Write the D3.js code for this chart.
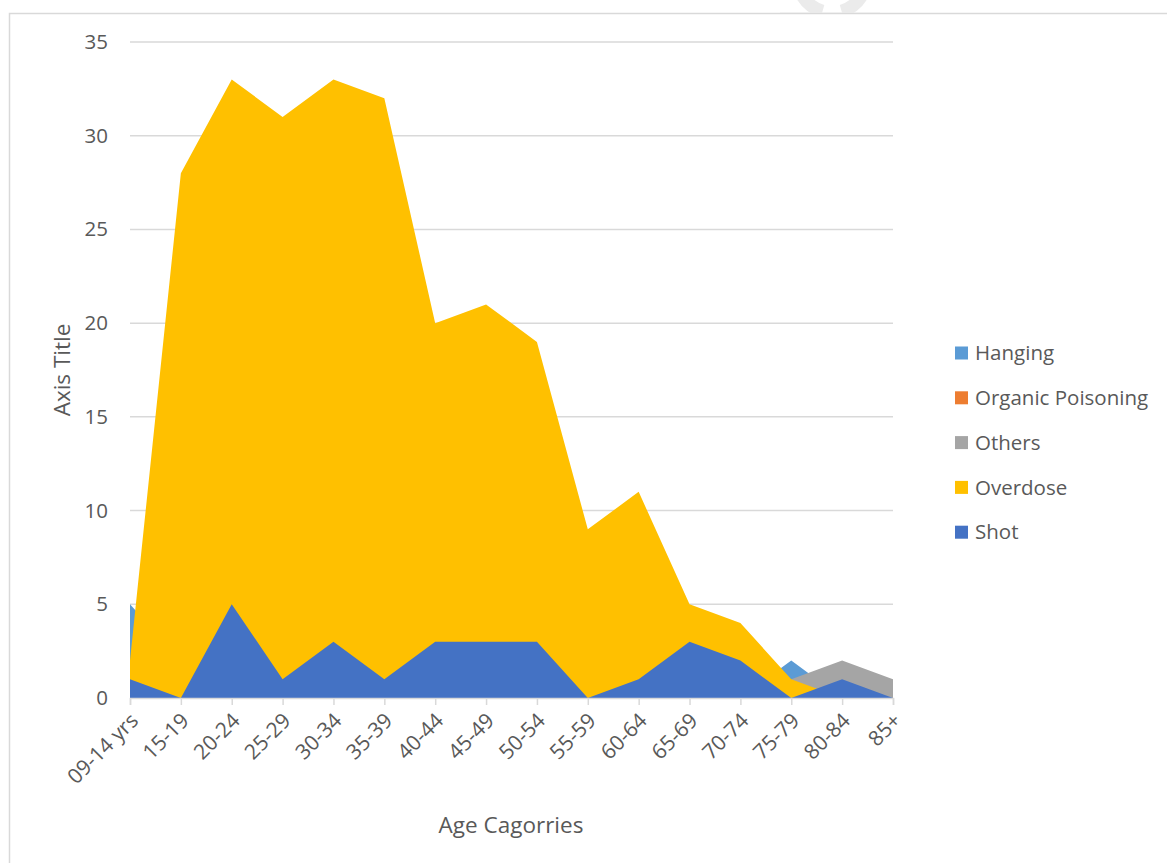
<!DOCTYPE html>
<html>
<head>
<meta charset="utf-8">
<script src="https://cdn.jsdelivr.net/npm/d3@7"></script>
<style>
  html, body { margin: 0; padding: 0; background: #ffffff; }
  svg { display: block; font-family: "Open Sans", "Noto Sans", sans-serif; }
</style>
</head>
<body>
<svg id="chart" width="1167" height="863"></svg>
<script>
// Age groups on the category axis
const categories = ["09-14 yrs", "15-19", "20-24", "25-29", "30-34", "35-39", "40-44", "45-49",
                    "50-54", "55-59", "60-64", "65-69", "70-74", "75-79", "80-84", "85+"];

// Counts per cause of death, one array per series
const hanging          = [5, 2, 4, 3, 4, 2, 3, 2, 2, 2, 1, 1, 0, 2, 0, 0];
const organicPoisoning = [0, 1, 1, 0, 1, 1, 0, 1, 0, 0, 0, 0, 0, 0, 0, 0];
const others           = [0, 1, 0, 1, 0, 1, 1, 0, 1, 0, 0, 1, 0, 1, 2, 1];
const overdose         = [2, 28, 33, 31, 33, 32, 20, 21, 19, 9, 11, 5, 4, 1, 0, 0];
const shot             = [1, 0, 5, 1, 3, 1, 3, 3, 3, 0, 1, 3, 2, 0, 1, 0];

const seriesNames  = ["Hanging", "Organic Poisoning", "Others", "Overdose", "Shot"];
const seriesValues = [hanging, organicPoisoning, others, overdose, shot];
const seriesColors = ["#5B9BD5", "#ED7D31", "#A5A5A5", "#FFC000", "#4472C4"];

const yTicks = [0, 5, 10, 15, 20, 25, 30, 35];

const svg = d3.select("#chart");
const textColor = "#595959";
const gridColor = "#d9d9d9";
const labelSize = "20.5px";
const titleSize = "22.5px";

// Outer chart frame
svg.append("rect")
  .attr("x", 9.5).attr("y", 13.5)
  .attr("width", 1200).attr("height", 900)
  .attr("fill", "none")
  .attr("stroke", gridColor)
  .attr("stroke-width", 1.5);

// Faint ring ornament at the top edge
const ornament = svg.append("g").attr("transform", "translate(832,-22)");
const ringArc = d3.arc().innerRadius(28).outerRadius(41);
[[2.0, 2.86], [3.42, 4.3]].forEach(([a0, a1]) => {
  ornament.append("path")
    .attr("d", ringArc({ startAngle: a0, endAngle: a1 }))
    .attr("fill", "#ebebeb");
});
svg.append("rect").attr("x", 780).attr("y", 12.8).attr("width", 100).attr("height", 40).attr("fill", "#fff");
svg.append("line").attr("x1", 780).attr("x2", 880).attr("y1", 13.5).attr("y2", 13.5)
  .attr("stroke", gridColor).attr("stroke-width", 1.5);

// Scales
const x = d3.scalePoint().domain(categories).range([130, 893]);
const y = d3.scaleLinear().domain([0, 35]).range([698, 42]);

// Horizontal gridlines
svg.append("g")
  .selectAll("line")
  .data(yTicks.filter(t => t > 0))
  .join("line")
  .attr("x1", 130).attr("x2", 893)
  .attr("y1", d => y(d)).attr("y2", d => y(d))
  .attr("stroke", gridColor)
  .attr("stroke-width", 1.5);

// Overlapping (non-stacked) areas, first series at the back
const area = d3.area()
  .x((d, i) => x(categories[i]))
  .y0(y(0))
  .y1(d => y(d));

svg.append("g")
  .selectAll("path")
  .data(seriesValues)
  .join("path")
  .attr("d", d => area(d))
  .attr("fill", (d, i) => seriesColors[i]);

// Category axis
const xAxis = svg.append("g").attr("transform", `translate(0,${y(0)})`)
  .call(d3.axisBottom(x).tickSize(7).tickPadding(6));
xAxis.select(".domain").attr("stroke", gridColor).attr("stroke-width", 1.5);
xAxis.selectAll(".tick line").attr("stroke", gridColor).attr("stroke-width", 1.5);
xAxis.selectAll(".tick text")
  .attr("fill", textColor)
  .style("font-size", "21px")
  .style("font-family", "'Open Sans', sans-serif")
  .attr("text-anchor", "end")
  .attr("dy", null)
  .attr("transform", "translate(5,20) rotate(-45)")
  .attr("x", 0).attr("y", 0)
  .attr("dominant-baseline", "middle");

// Value axis labels
const yAxis = svg.append("g").attr("transform", "translate(130,0)")
  .call(d3.axisLeft(y).tickValues(yTicks).tickSize(0).tickPadding(22));
yAxis.select(".domain").remove();
yAxis.selectAll(".tick text")
  .attr("fill", textColor)
  .style("font-size", labelSize)
  .style("font-family", "'Open Sans', sans-serif");

// Axis titles
svg.append("text")
  .attr("transform", `translate(70,${(y(0) + y(35)) / 2}) rotate(-90)`)
  .attr("text-anchor", "middle")
  .attr("fill", textColor)
  .style("font-size", titleSize)
  .text("Axis Title");

svg.append("text")
  .attr("x", 511).attr("y", 833)
  .attr("text-anchor", "middle")
  .attr("fill", textColor)
  .style("font-size", titleSize)
  .text("Age Cagorries");

// Legend
const legend = svg.append("g").attr("transform", "translate(955,353)");
const rows = legend.selectAll("g")
  .data(seriesNames)
  .join("g")
  .attr("transform", (d, i) => `translate(0,${i * 44.8})`);
rows.append("rect")
  .attr("x", 0).attr("y", -6.5)
  .attr("width", 13).attr("height", 13)
  .attr("fill", (d, i) => seriesColors[i]);
rows.append("text")
  .attr("x", 20).attr("y", 0)
  .attr("dy", "0.35em")
  .attr("fill", textColor)
  .style("font-size", labelSize)
  .text(d => d);
</script>
</body>
</html>
